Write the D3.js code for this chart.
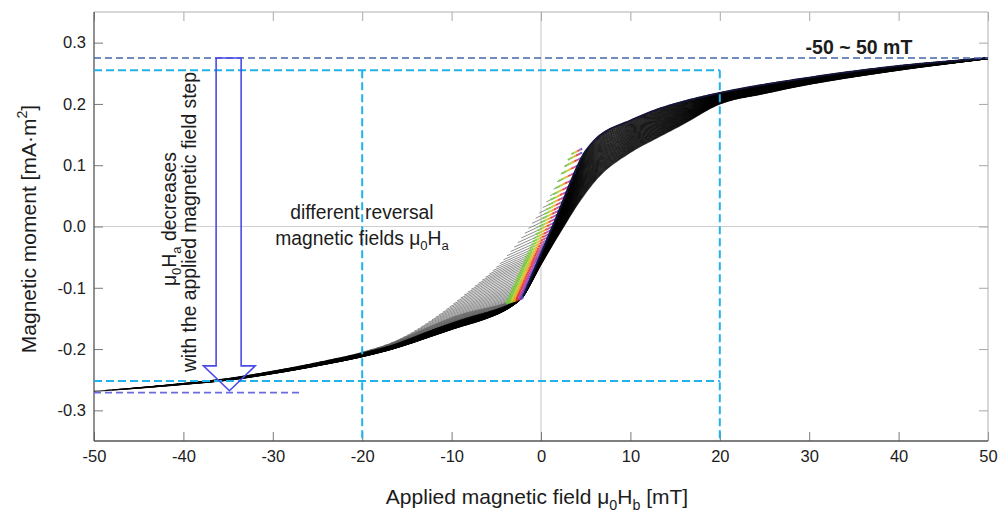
<!DOCTYPE html>
<html>
<head>
<meta charset="utf-8">
<script src="https://cdn.jsdelivr.net/npm/d3@7"></script>
<style>
  html, body { margin: 0; padding: 0; background: #fff; }
  svg { display: block; font-family: "Liberation Sans", Arial, sans-serif; }
</style>
</head>
<body>
<svg id="chart" width="1000" height="514"></svg>
<script>
// ---- axis ticks -----------------------------------------------------------
const fieldTicks = [-50, -40, -30, -20, -10, 0, 10, 20, 30, 40, 50];
const fieldTickLabels = ["-50", "-40", "-30", "-20", "-10", "0", "10", "20", "30", "40", "50"];
const momentTicks = [-0.3, -0.2, -0.1, 0, 0.1, 0.2, 0.3];
const momentTickLabels = ["-0.3", "-0.2", "-0.1", "0.0", "0.1", "0.2", "0.3"];

// ---- measured branches (mT, mA·m²) ---------------------------------------
// descending branch: upper / left envelope of the curve family
const descendingField  = [-50, -45, -40, -35, -30, -25, -20, -16, -12, -8.2, -4.5, -1.5, 1.0, 3.4, 4.8, 6.7, 10, 13.4, 20, 30, 40, 50];
const descendingMoment = [-0.269, -0.263, -0.256, -0.248, -0.236, -0.222, -0.205, -0.185, -0.150, -0.107, -0.059, -0.005, 0.050, 0.118, 0.134, 0.158, 0.177, 0.194, 0.218, 0.243, 0.262, 0.275];
// ascending major branch: lower / right envelope
const ascendingField  = [-50, -45, -40, -35, -30, -25, -20, -15, -10, -6, -3.5, -2, 0, 2.2, 4.5, 6.7, 10, 13.4, 16, 20, 25, 30, 40, 50];
const ascendingMoment = [-0.275, -0.270, -0.265, -0.258, -0.247, -0.233, -0.218, -0.200, -0.179, -0.159, -0.137, -0.114, -0.062, -0.008, 0.045, 0.085, 0.121, 0.148, 0.168, 0.200, 0.217, 0.232, 0.255, 0.274];
// switching path: the steep jump from the kink, then onto the upper branch
const switchingField  = [-2, 1.3, 4.6, 5.4, 6.7, 10, 13.4, 20, 30, 40, 50];
const switchingMoment = [-0.114, 0.0, 0.114, 0.131, 0.150, 0.173, 0.193, 0.218, 0.243, 0.262, 0.275];

// reversal fields μ0Ha of the curves that switch on the steep path (hatched fan)
const reversalFieldsUpper = [3.4, 3.0, 2.6, 2.2, 1.8, 1.4, 1.0, 0.6, 0.2, -0.2, -0.6, -1.0, -1.4, -1.8, -2.2, -2.6,
  -3.0, -3.4, -3.8, -4.2, -4.6, -5.0, -5.4, -5.8, -6.2, -6.6, -7.0, -7.4, -7.8, -8.2, -8.6, -9.0, -9.4, -9.8,
  -10.2, -10.6, -11.0, -11.4, -11.8, -12.2, -12.6, -13.0, -13.4, -13.8, -14.2, -14.6, -15.0, -15.4, -15.8, -16.2];
// reversal fields of the curves that run along the lower branch into the kink
const reversalFieldsLower = [-16.8, -17.6, -18.4, -19.2, -20, -20.8, -21.6, -22.4, -23.2, -24, -24.8, -25.6, -26.4,
  -27.2, -28, -28.8, -29.6, -30.4, -31.2, -32, -32.8, -33.6, -34.4, -35.2, -36, -36.8, -37.6, -38.4, -39.2, -40,
  -40.8, -41.6, -42.4, -43.2, -44, -44.8, -45.6, -46.4, -47.2, -48, -48.8, -50];
// reversible slope dM/dH of the hatched segments, at the top and at the bottom of the fan
const reversibleSlope = [0.0075, 0.0049];
// point colours along the end of each hatched segment (outer → inner)
const tipColours = ["#6fbf3a", "#7cc23c", "#b8cc2a", "#f0a020", "#e0352e", "#c23c9c", "#4a44c8"];

// ---- reference levels and annotation geometry ----------------------------
const levelSaturation = 0.275;
const levelBoxTop = 0.255;
const levelBoxBottom = -0.252;
const levelLower = -0.271;
const boxFields = [-20, 20];
const lowerLineEnd = -27;
const arrowField  = [-36.34, -33.54, -33.54, -31.97, -34.85, -37.76, -36.34];
const arrowMoment = [0.275, 0.275, -0.2274, -0.2274, -0.268, -0.2274, -0.2274];

// ---- helpers --------------------------------------------------------------
// smooth monotone (Fritsch–Carlson) curve through measured points
function monotoneCurve(xs, ys) {
  const n = xs.length, d = [], m = new Array(n);
  for (let i = 0; i < n - 1; i++) d.push((ys[i + 1] - ys[i]) / (xs[i + 1] - xs[i]));
  m[0] = d[0]; m[n - 1] = d[n - 2];
  for (let i = 1; i < n - 1; i++) m[i] = d[i - 1] * d[i] <= 0 ? 0 : (d[i - 1] + d[i]) / 2;
  for (let i = 0; i < n - 1; i++) {
    if (d[i] === 0) { m[i] = m[i + 1] = 0; continue; }
    const a = m[i] / d[i], b = m[i + 1] / d[i], s = a * a + b * b;
    if (s > 9) { const t = 3 / Math.sqrt(s); m[i] = t * a * d[i]; m[i + 1] = t * b * d[i]; }
  }
  return v => {
    let i = Math.min(n - 2, Math.max(0, d3.bisectRight(xs, v) - 1));
    const h = xs[i + 1] - xs[i], t = (v - xs[i]) / h, t2 = t * t, t3 = t2 * t;
    return (2 * t3 - 3 * t2 + 1) * ys[i] + (t3 - 2 * t2 + t) * h * m[i]
         + (-2 * t3 + 3 * t2) * ys[i + 1] + (t3 - t2) * h * m[i + 1];
  };
}

// ---- layout ---------------------------------------------------------------
const svg = d3.select("#chart");
const plotL = 94, plotR = 988, plotT = 12, plotB = 441;
const x = d3.scaleLinear().domain([-50, 50]).range([plotL, plotR]);
const y = d3.scaleLinear().domain([-0.35, 0.35]).range([plotB, plotT]);

const descending = monotoneCurve(descendingField, descendingMoment);
const ascending  = monotoneCurve(ascendingField, ascendingMoment);
const switching  = monotoneCurve(switchingField, switchingMoment);

// zero lines
svg.append("line").attr("x1", x(0)).attr("x2", x(0)).attr("y1", plotT).attr("y2", plotB)
  .attr("stroke", "#cfcfcf").attr("stroke-width", 1.2);
svg.append("line").attr("x1", plotL).attr("x2", plotR).attr("y1", y(0)).attr("y2", y(0))
  .attr("stroke", "#cfcfcf").attr("stroke-width", 1.2);

// axes (ticks point inwards)
const tickFont = "16.5px";
const gB = svg.append("g").attr("transform", `translate(0,${plotB})`)
  .call(d3.axisBottom(x).tickValues(fieldTicks).tickFormat((d, i) => fieldTickLabels[i])
    .tickSizeInner(-9).tickSizeOuter(0).tickPadding(9));
const gL = svg.append("g").attr("transform", `translate(${plotL},0)`)
  .call(d3.axisLeft(y).tickValues(momentTicks).tickFormat((d, i) => momentTickLabels[i])
    .tickSizeInner(-9).tickSizeOuter(0).tickPadding(8));
const gT = svg.append("g").attr("transform", `translate(0,${plotT})`)
  .call(d3.axisTop(x).tickValues(fieldTicks).tickFormat("").tickSizeInner(-9).tickSizeOuter(0));
const gR = svg.append("g").attr("transform", `translate(${plotR},0)`)
  .call(d3.axisRight(y).tickValues(momentTicks).tickFormat("").tickSizeInner(-9).tickSizeOuter(0));
[gB, gL, gT, gR].forEach(g => {
  g.select(".domain").remove();
  g.selectAll("text").attr("font-size", tickFont).attr("fill", "#1c1c1c")
    .attr("font-family", "'Liberation Sans', Arial, sans-serif");
});
[gB, gL].forEach(g => g.selectAll(".tick line").attr("stroke", "#7a7a7a"));
[gT, gR].forEach(g => g.selectAll(".tick line").attr("stroke", "#a8a8a8"));

// frame
svg.append("line").attr("x1", plotL).attr("x2", plotR).attr("y1", plotT).attr("y2", plotT).attr("stroke", "#b0b0b0");
svg.append("line").attr("x1", plotR).attr("x2", plotR).attr("y1", plotT).attr("y2", plotB).attr("stroke", "#b0b0b0");
svg.append("line").attr("x1", plotL).attr("x2", plotR).attr("y1", plotB).attr("y2", plotB).attr("stroke", "#555").attr("stroke-width", 1.3);
svg.append("line").attr("x1", plotL).attr("x2", plotL).attr("y1", plotT).attr("y2", plotB).attr("stroke", "#555").attr("stroke-width", 1.3);

// ---- curve family ---------------------------------------------------------
const line = d3.line().x(d => x(d[0])).y(d => y(d[1]));
const curves = svg.append("g");

// curves along the lower branch: they close onto the ascending branch at the kink,
// then fan out between the switching path and the ascending branch
const kink = switchingField[0];
reversalFieldsLower.forEach((ha, i) => {
  const blend = i / (reversalFieldsLower.length - 1);
  const fields = [ha].concat(d3.range(Math.ceil(ha * 4) / 4 + 0.25, 50.001, 0.25));
  const pre = [], post = [];
  fields.forEach(h => {
    if (h <= kink) {
      const w = Math.pow((kink - h) / (kink - ha), 0.85);
      pre.push([h, ascending(h) + (descending(h) - ascending(h)) * w]);
    } else {
      post.push([h, (1 - blend) * switching(h) + blend * ascending(h)]);
    }
  });
  pre.push([kink, switching(kink)]);
  post.unshift([kink, switching(kink)]);
  // the reversible part fades from a grey hatch (upper curves) into the dense lower band
  curves.append("path").attr("d", line(pre)).attr("fill", "none")
    .attr("stroke", i < 8 ? "#555" : "#000").attr("stroke-width", i < 8 ? 1 : 1.2)
    .attr("stroke-opacity", i < 8 ? 0.8 : 0.75);
  curves.append("path").attr("d", line(post)).attr("fill", "none")
    .attr("stroke", "#000").attr("stroke-width", 1.2).attr("stroke-opacity", 0.75);
});

// hatched curves: reversible straight part, coloured points where they meet the steep path
const s0 = switchingField[0], m0 = switchingMoment[0];
const steepK = (switchingMoment[2] - m0) / (switchingField[2] - s0);
const slopeAt = d3.scaleLinear()
  .domain([reversalFieldsUpper[0], reversalFieldsUpper[reversalFieldsUpper.length - 1]])
  .range(reversibleSlope);
const hatch = svg.append("g");
const tips = svg.append("g");
reversalFieldsUpper.forEach(ha => {
  const mStart = descending(ha);
  const sl = slopeAt(ha);
  let hs = (mStart - sl * ha - (m0 - steepK * s0)) / (steepK - sl);
  hs = Math.max(s0, Math.min(switchingField[2], hs));
  const rev = h => mStart + sl * (h - ha);
  const hc = Math.max(ha, hs - 1.9);
  if (hc > ha) {
    hatch.append("path").attr("d", line([[ha, mStart], [hc, rev(hc)]]))
      .attr("fill", "none").attr("stroke", "#6a6a6a").attr("stroke-width", 0.9).attr("stroke-opacity", 0.85);
  }
  const n = tipColours.length;
  tipColours.forEach((c, k) => {
    const h1 = hc + (hs - hc) * k / n, h2 = hc + (hs - hc) * (k + 1) / n;
    tips.append("path").attr("d", line([[h1, rev(h1)], [h2, rev(h2)]]))
      .attr("fill", "none").attr("stroke", c).attr("stroke-width", 1.9).attr("stroke-opacity", 0.9);
  });
});

// the switching path itself
svg.append("path")
  .attr("d", line(d3.range(-2, 50.001, 0.2).map(h => [h, switching(h)])))
  .attr("fill", "none").attr("stroke", "#15153a").attr("stroke-width", 1.8);

// ---- reference lines ------------------------------------------------------
const dashed = (x1, y1, x2, y2, colour, width, dash) =>
  svg.append("line").attr("x1", x(x1)).attr("y1", y(y1)).attr("x2", x(x2)).attr("y2", y(y2))
    .attr("stroke", colour).attr("stroke-width", width).attr("stroke-dasharray", dash);

dashed(-50, levelSaturation, 50, levelSaturation, "#4466aa", 1.6, "7,4");
dashed(-50, levelBoxTop, boxFields[1], levelBoxTop, "#22b2e8", 2, "8,4");
dashed(-50, levelBoxBottom, boxFields[1], levelBoxBottom, "#22b2e8", 2, "8,4");
dashed(boxFields[0], levelBoxTop, boxFields[0], -0.35, "#22b2e8", 2, "8,4");
dashed(boxFields[1], levelBoxTop, boxFields[1], -0.35, "#22b2e8", 2, "8,4");
dashed(-50, levelLower, lowerLineEnd, levelLower, "#6a6ae0", 1.6, "7,4");

// hollow arrow
svg.append("path")
  .attr("d", line(arrowField.map((h, i) => [h, arrowMoment[i]])) + "Z")
  .attr("fill", "none").attr("stroke", "#4b4be8").attr("stroke-width", 1.6);

// ---- text -----------------------------------------------------------------
function richText(g, parts, size) {
  parts.forEach(p => {
    const t = g.append("tspan").text(p.t);
    if (p.sub) t.attr("font-size", size * 0.68).attr("dy", size * 0.28);
    else if (p.sup) t.attr("font-size", size * 0.68).attr("dy", -size * 0.42);
    if (p.back) t.attr("dy", p.back);
  });
}
const ink = "#1c1c1c";

// x-axis label
{
  const size = 21;
  const t = svg.append("text").attr("x", 537).attr("y", 504).attr("text-anchor", "middle")
    .attr("font-size", size).attr("fill", ink);
  richText(t, [{ t: "Applied magnetic field μ" }, { t: "0", sub: true }, { t: "H", back: -size * 0.28 },
    { t: "b", sub: true }, { t: " [mT]", back: -size * 0.28 }], size);
}
// y-axis label
{
  const size = 21;
  const t = svg.append("text").attr("transform", "translate(36,229) rotate(-90)")
    .attr("text-anchor", "middle").attr("font-size", size).attr("fill", ink);
  richText(t, [{ t: "Magnetic moment [mA·m" }, { t: "2", sup: true }, { t: "]", back: size * 0.42 }], size);
}
// arrow caption
{
  const size = 19.3;
  const t1 = svg.append("text").attr("transform", "translate(176,219) rotate(-90)")
    .attr("text-anchor", "middle").attr("font-size", size).attr("fill", ink);
  richText(t1, [{ t: "μ" }, { t: "0", sub: true }, { t: "H", back: -size * 0.28 }, { t: "a", sub: true },
    { t: " decreases", back: -size * 0.28 }], size);
  svg.append("text").attr("transform", "translate(196,222) rotate(-90)")
    .attr("text-anchor", "middle").attr("font-size", size).attr("fill", ink)
    .text("with the applied magnetic field step");
}
// reversal-field caption
{
  const size = 19.3;
  svg.append("text").attr("x", 362).attr("y", 219).attr("text-anchor", "middle")
    .attr("font-size", size).attr("fill", ink).text("different reversal");
  const t = svg.append("text").attr("x", 362).attr("y", 245).attr("text-anchor", "middle")
    .attr("font-size", size).attr("fill", ink);
  richText(t, [{ t: "magnetic fields μ" }, { t: "0", sub: true }, { t: "H", back: -size * 0.28 },
    { t: "a", sub: true }], size);
}
// field range
svg.append("text").attr("x", 859).attr("y", 54).attr("text-anchor", "middle")
  .attr("font-size", 19.5).attr("font-weight", "bold").attr("fill", ink).text("-50 ~ 50 mT");
</script>
</body>
</html>
